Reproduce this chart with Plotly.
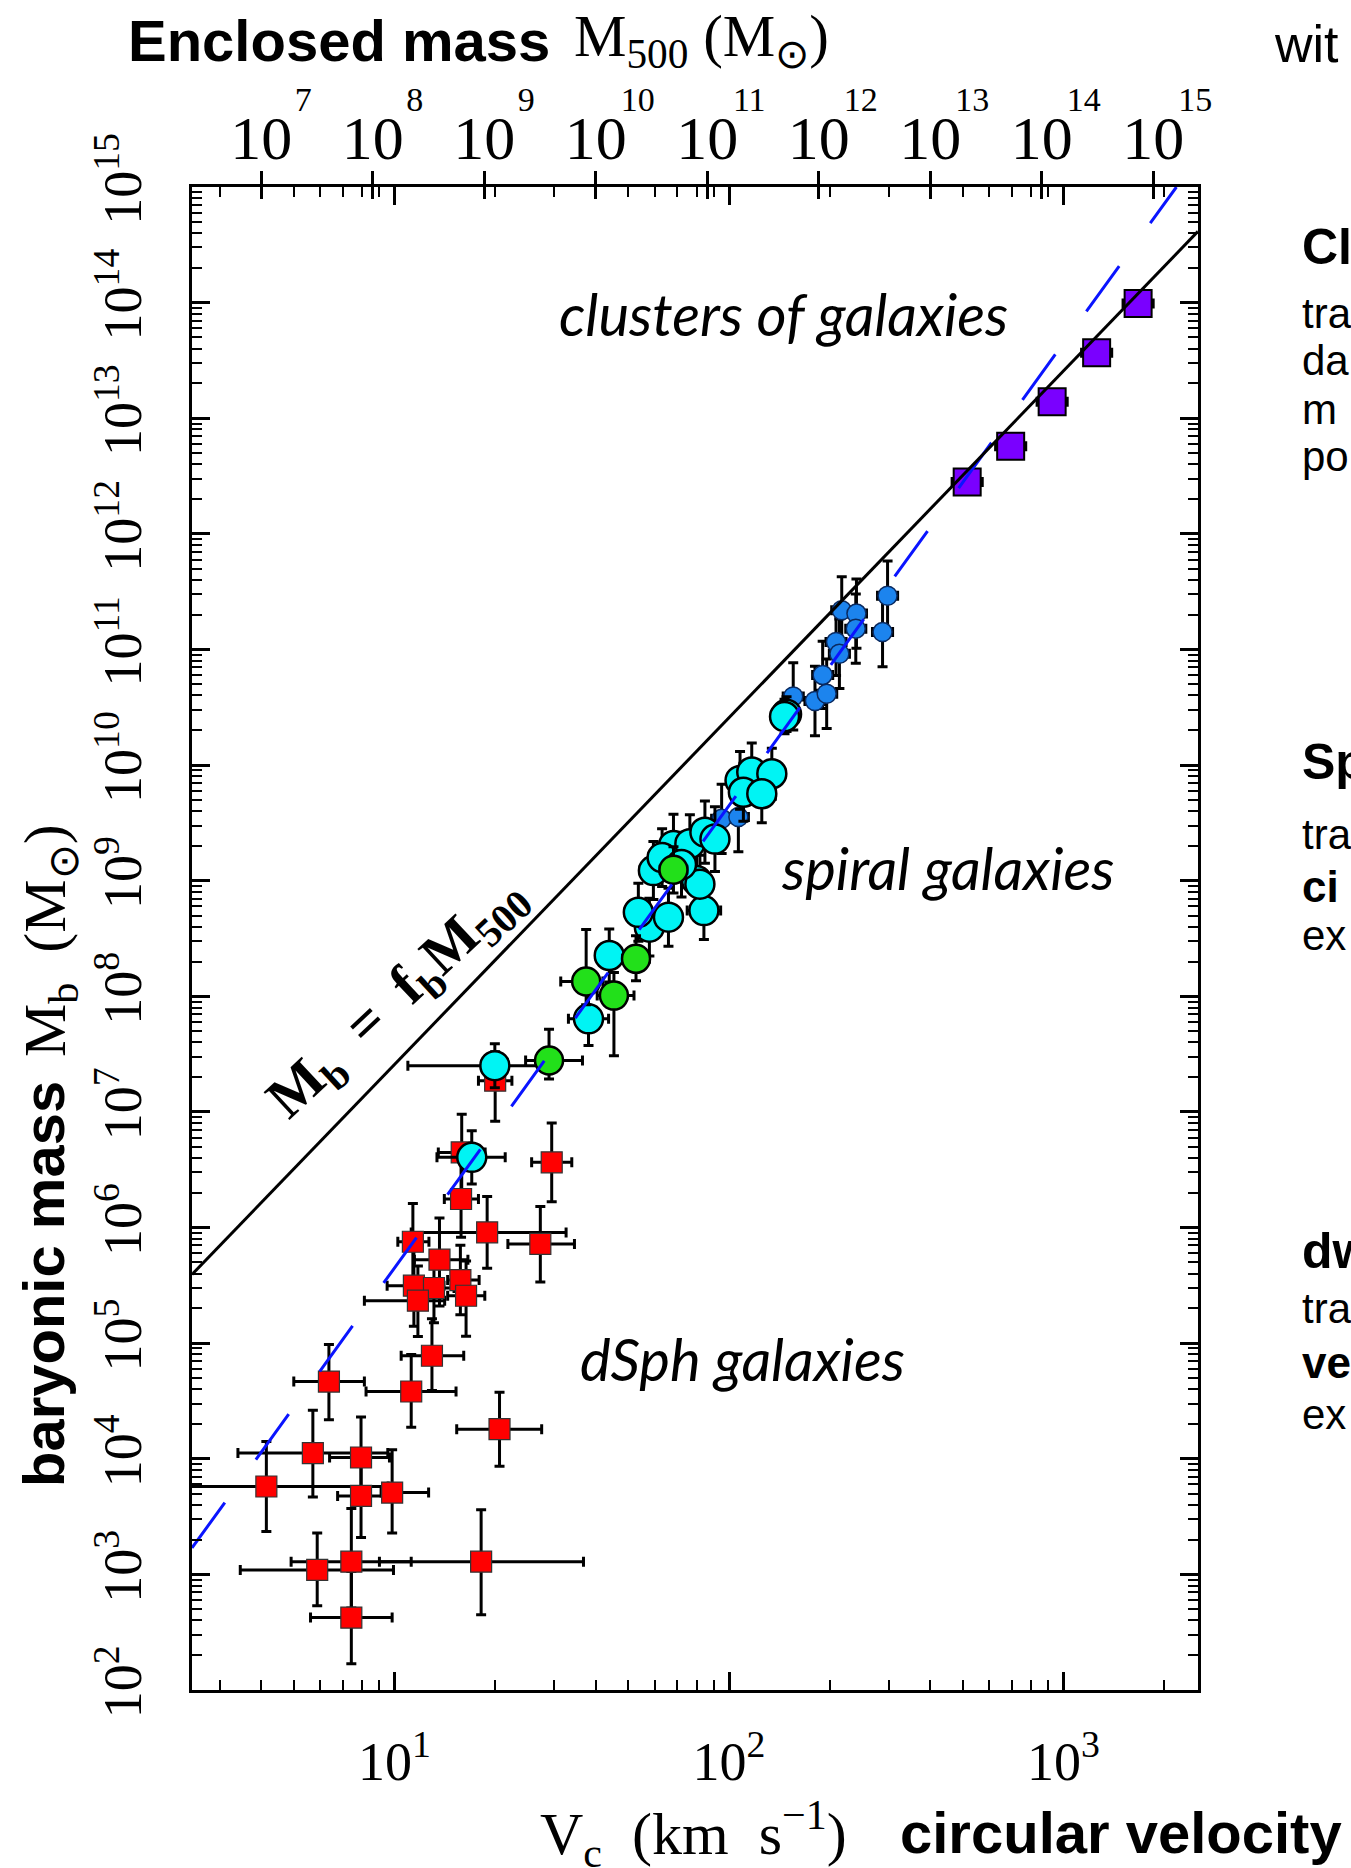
import numpy as np
import plotly.graph_objects as go

# ---------------- data (log10 values) ----------------
# dwarf spheroidals (red squares): log Vc, log Mb, and error extents in dex
dsph_logv = [1.301, 1.201, 1.470, 1.199, 1.277, 1.055, 1.436, 1.1345, 1.197, 1.058, 1.118, 1.214, 1.070,
             1.112, 1.050, 0.804, 1.314, 0.756, 0.900, 0.617, 0.900, 0.993, 0.769, 0.871, 0.871, 1.259]
dsph_logm = [7.27, 6.65, 6.564, 6.247, 5.958, 5.877, 5.858, 5.722, 5.546, 5.497, 5.477, 5.41, 5.367,
             4.891, 4.582, 4.668, 4.256, 4.049, 4.011, 3.760, 3.679, 3.708, 3.039, 3.110, 2.626, 3.110]
dsph_dv_minus = [0.05, 0.07, 0.06, 0.05, 0.227, 0.045, 0.097, 0.075, 0.038, 0.08, 0.05, 0.055, 0.16,
                 0.092, 0.135, 0.105, 0.128, 0.224, 0.094, 0.5, 0.07, 0.033, 0.23, 0.18, 0.122, 0.304]
dsph_dv_plus = [0.05, 0.07, 0.06, 0.052, 0.236, 0.048, 0.102, 0.085, 0.056, 0.09, 0.06, 0.056, 0.08,
                0.095, 0.134, 0.106, 0.126, 0.224, 0.085, 0.364, 0.07, 0.109, 0.228, 0.179, 0.122, 0.306]
dsph_dm_minus = [0.35, 0.33, 0.34, 0.33, 0.31, 0.33, 0.33, 0.40, 0.30, 0.35, 0.30, 0.35, 0.31,
                 0.30, 0.31, 0.33, 0.32, 0.38, 0.38, 0.39, 0.36, 0.35, 0.31, 0.40, 0.40, 0.46]
dsph_dm_plus = [0.25, 0.33, 0.34, 0.35, 0.31, 0.33, 0.325, 0.36, 0.30, 0.35, 0.30, 0.30, 0.30,
                0.32, 0.32, 0.32, 0.32, 0.37, 0.35, 0.39, 0.30, 0.37, 0.32, 0.46, 0.40, 0.45]

# gas-rich galaxies (cyan circles)
gas_logv = [1.300, 1.231, 1.580, 1.642, 1.762, 1.729, 1.819, 1.925, 1.774, 1.834, 1.883, 1.903, 1.913,
            1.928, 1.958, 2.033, 2.068, 2.128, 2.043, 2.098, 2.172, 2.166, 1.800, 1.858]
gas_logm = [7.40, 6.607, 7.805, 8.353, 8.598, 8.727, 8.684, 8.742, 9.088, 9.305, 9.32, 9.002, 8.97,
            9.42, 9.36, 9.867, 9.94, 9.925, 9.765, 9.752, 10.44, 10.42, 9.20, 9.14]
gas_dv_minus = [0.26, 0.104, 0.06, 0.04, 0.04, 0.04, 0.04, 0.05, 0.04, 0.04, 0.04, 0.04, 0.04,
                0.04, 0.04, 0.04, 0.04, 0.04, 0.04, 0.04, 0.03, 0.03, 0.04, 0.04]
gas_dv_plus = [0.16, 0.10, 0.06, 0.04, 0.04, 0.04, 0.04, 0.05, 0.04, 0.04, 0.04, 0.04, 0.04,
               0.04, 0.04, 0.04, 0.04, 0.04, 0.04, 0.04, 0.03, 0.03, 0.04, 0.04]
gas_dm = [0.19, 0.23, 0.23, 0.23, 0.25, 0.25, 0.25, 0.25, 0.25, 0.27, 0.25, 0.28, 0.25,
          0.27, 0.28, 0.25, 0.25, 0.22, 0.25, 0.25, 0.15, 0.15, 0.25, 0.28]

# green circles
grn_logv = [1.462, 1.573, 1.656, 1.722, 1.834]
grn_logm = [7.444, 8.128, 8.006, 8.324, 9.094]
grn_dv_minus = [0.07, 0.076, 0.05, 0.04, 0.04]
grn_dv_plus = [0.10, 0.05, 0.06, 0.04, 0.04]
grn_dm_minus = [0.16, 0.20, 0.52, 0.19, 0.20]
grn_dm_plus = [0.27, 0.45, 0.20, 0.20, 0.20]

# star-dominated spirals (blue circles)
spi_logv = [1.978, 2.028, 2.192, 2.257, 2.280, 2.292, 2.320, 2.330, 2.337, 2.381, 2.379, 2.474, 2.459]
spi_logm = [9.535, 9.55, 10.594, 10.554, 10.78, 10.617, 11.064, 10.963, 11.339, 11.31, 11.18, 11.465, 11.15]
spi_dm = [0.30, 0.30, 0.29, 0.30, 0.29, 0.30, 0.29, 0.30, 0.29, 0.30, 0.30, 0.30, 0.30]
spi_dv = [0.03] * 13

# clusters of galaxies (purple squares)
clu_logv = [2.712, 2.842, 2.966, 3.099, 3.223]
clu_logm = [12.449, 12.758, 13.142, 13.566, 13.993]
clu_dv = [0.045, 0.045, 0.045, 0.045, 0.045]

# relations
M500_LOG_OFFSET = 5.195   # log M500 = 3 log Vc + offset (top axis)
FB = 0.164                # Mb = fb * M500
BTFR_LOG_A = 1.65         # log Mb = 4 log Vc + log A

x_tick_exps = [1, 2, 3]
y_tick_exps = list(range(2, 16))
top_tick_exps = list(range(7, 16))

# ---------------- geometry / style ----------------
W, H = 1351, 1868
ML, MR, MT, MB = 192, 153, 187, 178
PW, PH = W - ML - MR, H - MT - MB
LOGV_RANGE = [0.3947, 3.402]
LOGM_RANGE = [2.0, 15.0]
LOGM500_RANGE = [3 * LOGV_RANGE[0] + M500_LOG_OFFSET, 3 * LOGV_RANGE[1] + M500_LOG_OFFSET]
SERIF = "Liberation Serif"
SANS = "Liberation Sans"
ITAL = "Lato"
NB = "\u00a0"


def px(xp):
    return (xp - ML) / PW


def py(yp):
    return (H - MB - yp) / PH


def lin(logs):
    return [10 ** v for v in logs]


def err_plus(logs, d):
    return [10 ** (v + e) - 10 ** v for v, e in zip(logs, d)]


def err_minus(logs, d):
    return [10 ** v - 10 ** (v - e) for v, e in zip(logs, d)]


fig = go.Figure()


def add_points(logv, logm, dvm, dvp, dmm, dmp, symbol, size, color, lw, lcolor):
    kw = {}
    if dmm is not None:
        kw["error_y"] = dict(type="data", symmetric=False, array=err_plus(logm, dmp),
                             arrayminus=err_minus(logm, dmm), color="black", thickness=3, width=5)
    fig.add_trace(go.Scatter(
        x=lin(logv), y=lin(logm), mode="markers",
        marker=dict(symbol=symbol, size=size, color=color, line=dict(width=lw, color=lcolor)),
        error_x=dict(type="data", symmetric=False, array=err_plus(logv, dvp),
                     arrayminus=err_minus(logv, dvm), color="black", thickness=3, width=5),
        showlegend=False, hoverinfo="skip", **kw))


add_points(dsph_logv, dsph_logm, dsph_dv_minus, dsph_dv_plus, dsph_dm_minus, dsph_dm_plus,
           "square", 21, "#ff0000", 1.2, "#333333")
add_points(spi_logv, spi_logm, spi_dv, spi_dv, spi_dm, spi_dm, "circle", 19, "#1c84ee", 1.5, "#0a2a60")
add_points(gas_logv, gas_logm, gas_dv_minus, gas_dv_plus, gas_dm, gas_dm, "circle", 29, "#00f4f4", 2.5, "black")
add_points(grn_logv, grn_logm, grn_dv_minus, grn_dv_plus, grn_dm_minus, grn_dm_plus, "circle", 28, "#22e01a", 2.5, "black")
add_points(clu_logv, clu_logm, clu_dv, clu_dv, None, None, "square", 27, "#7a00ff", 2, "black")

# Mb = fb M500 : drawn on the top (M500) axis
m500_line = np.array([10 ** LOGM500_RANGE[0], 10 ** LOGM500_RANGE[1]])
fig.add_trace(go.Scatter(x=m500_line, y=FB * m500_line, xaxis="x2", mode="lines",
                         line=dict(color="black", width=3), showlegend=False, hoverinfo="skip"))
# same relation on the helper axis that carries the inner top ticks / exponents (invisible)
fig.add_trace(go.Scatter(x=m500_line, y=FB * m500_line, xaxis="x3", mode="lines", opacity=0,
                         line=dict(color="black", width=0.1), showlegend=False, hoverinfo="skip"))
# baryonic Tully-Fisher relation (blue dashed)
v_top = 10 ** ((LOGM_RANGE[1] - BTFR_LOG_A) / 4)
v_btfr = np.array([10 ** LOGV_RANGE[0], v_top])
fig.add_trace(go.Scatter(x=v_btfr, y=10 ** BTFR_LOG_A * v_btfr ** 4, mode="lines",
                         line=dict(color="#0a14ff", width=3, dash="56px,53px"),
                         showlegend=False, hoverinfo="skip"))


def minor_vals(lo, hi):
    out = []
    for n in range(int(np.floor(lo)) - 1, int(np.ceil(hi)) + 1):
        for k in range(2, 10):
            v = k * 10 ** n
            if lo < np.log10(v) < hi:
                out.append(v)
    return out


axis_common = dict(type="log", showgrid=False, zeroline=False, showline=True, linewidth=3,
                   linecolor="black", mirror="ticks", ticks="inside", tickwidth=2.5,
                   tickcolor="black")

fig.update_layout(
    width=W, height=H, margin=dict(l=ML, r=MR, t=MT, b=MB, pad=0),
    paper_bgcolor="white", plot_bgcolor="white", showlegend=False,
    xaxis=dict(**axis_common, range=LOGV_RANGE, ticklen=18,
               tickmode="array", tickvals=[10 ** e for e in x_tick_exps],
               ticktext=["10<sup>%d</sup>" % e for e in x_tick_exps], tickangle=0,
               tickfont=dict(family=SERIF, size=54, color="black"), ticklabelstandoff=22,
               minor=dict(ticks="inside", ticklen=10, tickwidth=2, tickcolor="black",
                          tickmode="array", tickvals=minor_vals(*LOGV_RANGE), showgrid=False)),
    yaxis=dict(**axis_common, range=LOGM_RANGE, ticklen=18,
               tickmode="array", tickvals=[10 ** e for e in y_tick_exps],
               ticktext=["10<sup>%d</sup>" % e for e in y_tick_exps], tickangle=-90,
               tickfont=dict(family=SERIF, size=54, color="black"), ticklabelstandoff=26,
               minor=dict(ticks="inside", ticklen=10, tickwidth=2, tickcolor="black",
                          tickmode="array", tickvals=minor_vals(*LOGM_RANGE), showgrid=False)),
    # top axis: mantissa "10" of each M500 label
    xaxis2=dict(type="log", overlaying="x", side="top", anchor="y", showgrid=False, zeroline=False,
                showline=False, range=LOGM500_RANGE,
                tickmode="array", tickvals=[10 ** e for e in top_tick_exps],
                ticktext=["10"] * len(top_tick_exps),
                tickangle=0, ticks="outside", ticklen=15, tickwidth=3, tickcolor="black",
                tickfont=dict(family=SERIF, size=62, color="black"), ticklabelstandoff=-13),
    # top axis: inner ticks and the raised exponents
    xaxis3=dict(type="log", overlaying="x", side="top", anchor="y", showgrid=False, zeroline=False,
                showline=False, range=LOGM500_RANGE,
                tickmode="array", tickvals=[10 ** e for e in top_tick_exps],
                ticktext=[str(e) for e in top_tick_exps], tickangle=0,
                tickfont=dict(family=SERIF, size=34, color="black"),
                ticklabelstandoff=68, ticklabelshift=42,
                ticks="inside", ticklen=12, tickwidth=3, tickcolor="black"),
)

ann = []


def text(x, y, s, size, family, xanchor="left", yanchor="middle", angle=0, color="black"):
    ann.append(dict(x=px(x), y=py(y), xref="paper", yref="paper", text=s, showarrow=False,
                    xanchor=xanchor, yanchor=yanchor, textangle=angle,
                    font=dict(family=family, size=size, color=color)))


# axis titles
text(126, 40, "<b>Enclosed mass</b>", 58, SANS)
text(572, 40, "M<sub>500</sub>" + NB + "(M<sub>⊙</sub>)", 59, SERIF)
text(1272, 44, "wit", 52, SANS)
text(538, 1834, "V<sub>c</sub>" + NB * 2 + "(km" + NB * 2 + "s<sup>−1</sup>)", 60, SERIF)
text(898, 1832, "<b>circular velocity</b>", 58, SANS)
text(43, 1284, "<b>baryonic mass</b>", 58, SANS, xanchor="center", angle=-90)
text(50, 941, "M<sub>b</sub>" + NB * 2 + "(M<sub>⊙</sub>)", 60, SERIF, xanchor="center", angle=-90)

# region labels
text(783, 313, "<i>clusters of galaxies</i>", 58, ITAL, xanchor="center")
text(947, 867, "<i>spiral galaxies</i>", 58, ITAL, xanchor="center")
text(742, 1358, "<i>dSph galaxies</i>", 58, ITAL, xanchor="center")
text(397, 998, "<b>M<sub>b</sub>" + NB * 2 + "=" + NB * 2 + "f<sub>b</sub>M<sub>500</sub></b>", 58, SERIF,
     xanchor="center", angle=-43)

# side text fragments (cropped slide text)
side = [("<b>Cl</b>", 247, 50), ("tra", 313, 42), ("da", 361, 42), ("m", 409, 42), ("po", 457, 42),
        ("<b>Sp</b>", 762, 50), ("tra", 834, 42), ("<b>ci</b>", 886, 44), ("ex", 936, 42),
        ("<b>dw</b>", 1251, 50), ("tra", 1308, 42), ("<b>ve</b>", 1362, 44), ("ex", 1414, 42)]
for s, y, sz in side:
    text(1300, y, s, sz, SANS)

fig.update_layout(annotations=ann)

fig.write_html("out.html", config={"displayModeBar": False},
               post_script="document.body.style.margin='0';document.body.style.overflow='hidden';")
